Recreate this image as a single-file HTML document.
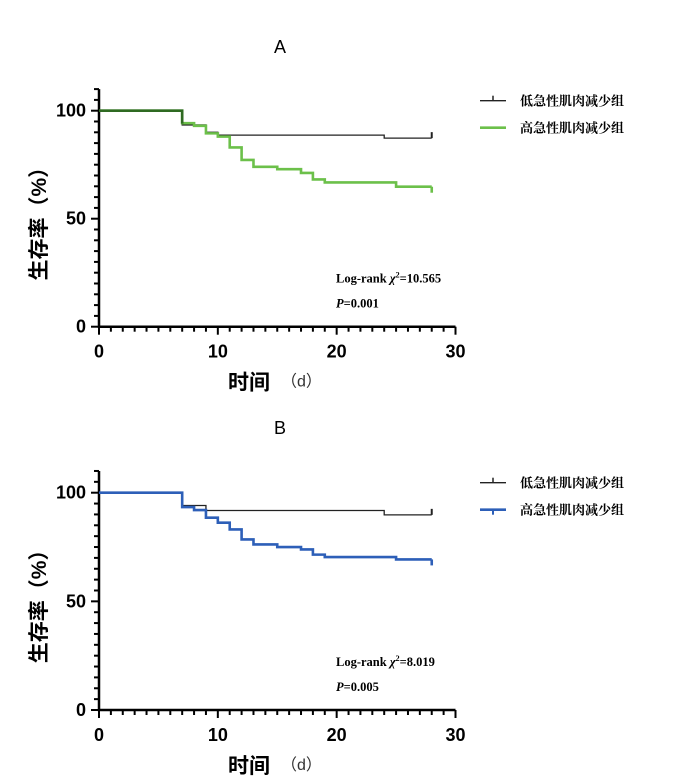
<!DOCTYPE html><html><head><meta charset="utf-8"><style>
body{margin:0;background:#fff}svg{display:block}
</style></head><body>
<svg id="s" width="677" height="782" xmlns="http://www.w3.org/2000/svg" font-family="Liberation Sans, Noto Sans CJK SC, sans-serif"></svg>
<script>
const s=document.getElementById('s');let h='';
function chart(o){
 const X=d=>99+d*(356.5/30), Y=v=>o.y0-v*(o.y0-o.y100)/100;
 h+=`<text x="280" y="${o.ty}" font-size="18" text-anchor="middle">${o.t}</text>`;
 h+=`<path d="M99,${Y(110)}V${o.y0}H${X(30)}" fill="none" stroke="#000" stroke-width="2.5"/>`;
 for(let v=0;v<=110;v+=5){const L=v%50==0?8:5;h+=`<line x1="${99-L}" x2="99" y1="${Y(v)}" y2="${Y(v)}" stroke="#000" stroke-width="2"/>`;}
 for(let d=0;d<=30;d++){const L=d%10==0?8:5;h+=`<line x1="${X(d)}" x2="${X(d)}" y1="${o.y0}" y2="${o.y0+L}" stroke="#000" stroke-width="2"/>`;}
 [0,50,100].forEach(v=>h+=`<text x="86" y="${Y(v)+6}" font-size="18" font-weight="bold" text-anchor="end">${v}</text>`);
 [0,10,20,30].forEach(d=>h+=`<text x="${X(d)}" y="${o.y0+31}" font-size="18" font-weight="bold" text-anchor="middle">${d}</text>`);
 h+=`<text transform="translate(46,${Y(50)}) rotate(-90)" font-size="21" font-weight="bold" text-anchor="middle">生存率（%）</text>`;
 h+=`<text x="228" y="${o.y0+63}" font-size="21" font-weight="bold">时间</text><text x="281" y="${o.y0+60}" font-size="16" fill="#333">（d）</text>`;
 function path(pts,c,w){let d=`M${X(0)},${Y(100)}`;let prev=100;pts.forEach(([t,v])=>{d+=`H${X(t)}V${Y(v)}`;prev=v;});d+=`H${X(28)}`;h+=`<path d="${d}" fill="none" stroke="${c}" stroke-width="${w}"/>`;return prev;}
 const pb=path(o.b,'#222',1.3);
 h+=`<line x1="${X(28)}" x2="${X(28)}" y1="${Y(pb)}" y2="${Y(pb)-6}" stroke="#222" stroke-width="2"/>`;
 const pc=path(o.c,o.col,2.6);
 h+=`<line x1="${X(28)}" x2="${X(28)}" y1="${Y(pc)}" y2="${Y(pc)+6}" stroke="${o.col}" stroke-width="2.6"/>`;
 if(o.dark)h+=`<path d="M${X(0)},${Y(100)}H${X(7)}V${Y(94)}" fill="none" stroke="${o.dark}" stroke-width="2.6"/>`;
 const ly=o.y100-10;
 h+=`<line x1="480" x2="506" y1="${ly}" y2="${ly}" stroke="#222" stroke-width="1.3"/><line x1="493" x2="493" y1="${ly}" y2="${ly-5}" stroke="#222" stroke-width="1.5"/>`;
 h+=`<line x1="480" x2="506" y1="${ly+27}" y2="${ly+27}" stroke="${o.col}" stroke-width="2.6"/>`;
 if(o.blue)h+=`<line x1="493" x2="493" y1="${ly+27}" y2="${ly+32}" stroke="${o.col}" stroke-width="2"/>`;
 h+=`<text x="520" y="${ly+5}" font-size="13" font-family="Noto Serif CJK SC, serif" font-weight="bold">低急性肌肉减少组</text><text x="520" y="${ly+32}" font-size="13" font-family="Noto Serif CJK SC, serif" font-weight="bold">高急性肌肉减少组</text>`;
 h+=`<text x="336" y="${o.y0-44}" font-size="12.5" font-weight="bold" font-family="Liberation Serif, serif">Log-rank <tspan font-style="italic">χ</tspan><tspan font-size="8" dy="-5">2</tspan><tspan dy="5">=${o.chi}</tspan></text>`;
 h+=`<text x="336" y="${o.y0-19}" font-size="12.5" font-weight="bold" font-family="Liberation Serif, serif"><tspan font-style="italic">P</tspan>=${o.p}</text>`;
}
chart({t:'A',ty:53,y0:326.7,y100:110.7,col:'#6cc04a',dark:'#2f6a22',chi:'10.565',p:'0.001',
 b:[[7,93.4],[9,90],[10,88.7],[24,87.3]],
 c:[[7,94.2],[8,93],[9,89.5],[10,88],[11,83],[12,77.2],[13,74],[15,72.9],[17,71.2],[18,68.2],[19,66.8],[25,64.8]]});
chart({t:'B',ty:434,y0:710,y100:492.7,col:'#2d5fb8',blue:1,chi:'8.019',p:'0.005',
 b:[[7,94.1],[9,91.8],[24,89.8]],
 c:[[7,93.4],[8,92],[9,88.5],[10,86.2],[11,83.1],[12,78.5],[13,76.2],[15,75],[17,73.9],[18,71.5],[19,70.4],[25,69.3]]});
s.innerHTML=h;
</script>
</body></html>
